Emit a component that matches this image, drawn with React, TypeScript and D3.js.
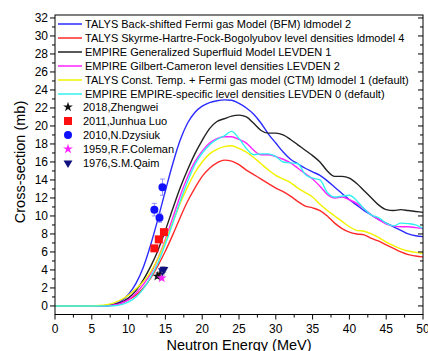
import React from "react";
import * as d3 from "d3";

const energies = [0,1,2,3,4,5,6,7,8,9,10,11,12,13,14,15,16,17,18,19,20,21,22,23,24,25,26,27,28,29,30,31,32,33,34,35,36,37,38,39,40,41,42,43,44,45,46,47,48,49,50];

const talysBFM = [0,0,0,0,0,0,0.01,0.05,0.2,0.55,1.3,2.5,4.3,6.8,9.7,12.8,15.8,18.4,20.3,21.5,22.2,22.6,22.8,22.9,22.85,22.5,22.0,21.3,20.3,19.1,18.1,17.1,16.3,15.8,15.3,14.9,14.5,13.9,13.2,12.5,11.8,11.2,10.6,10.1,9.6,9.2,8.8,8.4,8.0,7.8,7.7];
const talysSHFB = [0,0,0,0,0,0,0,0.03,0.12,0.35,0.7,1.2,2.0,3.1,4.5,6.1,7.9,9.8,11.6,13.1,14.4,15.3,15.9,16.2,16.1,15.7,15.1,14.6,14.1,13.6,13.1,12.7,12.2,11.6,11.1,10.9,10.6,10.0,9.2,8.6,8.2,8.0,7.9,7.5,7.2,6.8,6.4,6.0,5.7,5.55,5.45];
const empireGSM = [0,0,0,0,0,0,0,0.03,0.15,0.4,0.9,1.7,2.9,4.4,6.2,8.4,10.8,13.1,15.1,16.9,18.4,19.7,20.5,20.8,21.1,21.2,21.0,20.3,19.5,19.2,19.2,19.0,18.5,17.9,17.3,16.7,16.0,15.0,14.4,14.4,14.2,13.6,12.8,12.0,11.2,10.7,10.6,10.7,10.6,10.5,10.4];
const empireGC = [0,0,0,0,0,0,0,0,0.1,0.3,0.7,1.4,2.4,3.6,5.3,7.4,9.8,12.2,14.3,16.0,17.2,18.1,18.6,18.8,18.8,18.5,18.1,17.3,16.8,16.8,16.6,16.3,15.9,15.3,14.7,14.1,13.3,12.4,12.0,12.1,11.8,11.4,10.8,10.1,9.6,9.1,8.9,8.8,8.8,8.7,8.6];
const talysCTM = [0,0,0,0,0,0,0.05,0.15,0.35,0.7,1.2,1.9,2.7,3.8,5.3,7.2,9.3,11.4,13.2,14.8,16.0,16.9,17.4,17.7,17.8,17.5,17.1,16.5,15.8,15.1,14.5,14.1,13.7,13.1,12.6,12.1,11.3,10.6,10.0,9.4,8.8,8.4,8.3,8.0,7.6,7.1,6.7,6.35,6.1,5.95,5.85];
const empireSpecific = [0,0,0,0,0,0,0,0,0.03,0.15,0.45,1.0,1.9,3.2,4.8,6.9,9.2,11.6,13.8,15.7,17.0,17.9,18.5,18.9,19.4,18.6,17.5,16.8,16.9,16.9,16.6,16.0,15.9,15.8,14.6,14.2,14.0,12.6,12.1,12.2,12.3,11.7,10.8,10.1,9.8,9.2,8.9,9.2,9.15,9.0,8.6];

const curveNames = [
  "TALYS Back-shifted Fermi gas Model (BFM) ldmodel 2",
  "TALYS Skyrme-Hartre-Fock-Bogolyubov level densities ldmodel 4",
  "EMPIRE Generalized Superfluid Model LEVDEN 1",
  "EMPIRE Gilbert-Cameron level densities LEVDEN 2",
  "TALYS Const. Temp. + Fermi gas model (CTM) ldmodel 1 (default)",
  "EMPIRE EMPIRE-specific level densities LEVDEN 0 (default)",
];
const curveColors = ["#2b2bff", "#ff2a2a", "#222222", "#ff22ff", "#f2f200", "#33f0f0"];
const curveValues = [talysBFM, talysSHFB, empireGSM, empireGC, talysCTM, empireSpecific];

// experimental data: [energy, value, error]
const zhengwei2018 = [[13.9, 3.3, 0.25], [14.3, 3.55, 0.25]];
const luo2011 = [[13.5, 6.4, 0.2], [14.1, 7.4, 0.2], [14.8, 8.2, 0.25]];
const dzysiuk2010 = [[13.5, 10.7, 0.7], [14.2, 9.8, 0.5], [14.6, 13.2, 0.9]];
const coleman1959 = [[14.5, 3.1, 0.2]];
const qaim1976 = [[14.6, 3.9, 0.45], [14.8, 4.05, 0.3]];

const expNames = ["2018,Zhengwei", "2011,Junhua Luo", "2010,N.Dzysiuk", "1959,R.F.Coleman", "1976,S.M.Qaim"];
const expColors = ["#111111", "#ff1010", "#1010ff", "#ff20ff", "#101080"];
const expShapes = ["star", "square", "circle", "star", "triangleDown"];
const expData = [zhengwei2018, luo2011, dzysiuk2010, coleman1959, qaim1976];

const xTicks = [0, 5, 10, 15, 20, 25, 30, 35, 40, 45, 50];
const yTicks = [0, 2, 4, 6, 8, 10, 12, 14, 16, 18, 20, 22, 24, 26, 28, 30, 32];

const W = 428, H = 351;
const left = 55, right = 423, top = 15, bottom = 314.5;
const FONT = "Liberation Sans, Arial, sans-serif";

function Marker({ shape, x, y, color }: { shape: string; x: number; y: number; color: string }) {
  if (shape === "circle") return <circle cx={x} cy={y} r={4} fill={color} />;
  if (shape === "square") return <rect x={x - 4} y={y - 4} width={8} height={8} fill={color} />;
  let sym = d3.symbolStar;
  let size = 30;
  if (shape === "triangleDown") { sym = d3.symbolTriangle; size = 34; }
  const p = d3.symbol().type(sym).size(size)() || "";
  const rot = shape === "triangleDown" ? 180 : 0;
  return <path d={p} transform={`translate(${x},${y}) rotate(${rot})`} fill={color} />;
}

export default function App() {
  const x = d3.scaleLinear().domain([0, 50]).range([left, right]);
  const y = d3.scaleLinear().domain([-0.95, 32.33]).range([bottom, top]);
  const line = d3.line<number>().x((_, i) => x(energies[i])).y((d) => y(d)).curve(d3.curveMonotoneX);

  const yMinor = d3.range(0, 33, 1);
  const xMinor = d3.range(0, 50.1, 2.5);

  return (
    <svg width={W} height={H} style={{ position: "fixed", left: 0, top: 0, background: "#fff" }} fontFamily={FONT}>
      <defs>
        <clipPath id="plotclip">
          <rect x={left} y={top} width={right - left} height={bottom - top} />
        </clipPath>
      </defs>
      {/* curves */}
      <g clipPath="url(#plotclip)">
        {curveValues.map((vals, i) => (
          <path key={i} d={line(vals) || ""} fill="none" stroke={curveColors[i]} strokeWidth={1.4} />
        ))}
      </g>
      {/* experimental data */}
      {expData.map((pts, si) => (
        <g key={si}>
          {pts.map((p, j) => (
            <g key={j}>
              <line x1={x(p[0])} x2={x(p[0])} y1={y(p[1] - p[2])} y2={y(p[1] + p[2])} stroke={si === 2 ? "#7777ff" : "#8888aa"} strokeWidth={0.8} />
              <line x1={x(p[0]) - 2.5} x2={x(p[0]) + 2.5} y1={y(p[1] + p[2])} y2={y(p[1] + p[2])} stroke={si === 2 ? "#7777ff" : "#8888aa"} strokeWidth={0.8} />
              <line x1={x(p[0]) - 2.5} x2={x(p[0]) + 2.5} y1={y(p[1] - p[2])} y2={y(p[1] - p[2])} stroke={si === 2 ? "#7777ff" : "#8888aa"} strokeWidth={0.8} />
              <Marker shape={expShapes[si]} x={x(p[0])} y={y(p[1])} color={expColors[si]} />
            </g>
          ))}
        </g>
      ))}
      {/* frame */}
      <rect x={left} y={top} width={right - left} height={bottom - top} fill="none" stroke="#000" strokeWidth={1} />
      {/* y ticks */}
      {yMinor.map((v) => {
        const major = v % 2 === 0;
        const len = major ? 5 : 3;
        return (
          <g key={"y" + v}>
            <line x1={left - len} x2={left} y1={y(v)} y2={y(v)} stroke="#000" />
            <line x1={right - len} x2={right} y1={y(v)} y2={y(v)} stroke="#000" />
          </g>
        );
      })}
      {yTicks.map((v) => (
        <text key={"yl" + v} x={left - 7} y={y(v)} dy="0.35em" textAnchor="end" fontSize={12}>{v}</text>
      ))}
      {/* x ticks */}
      {xMinor.map((v) => {
        const major = v % 5 === 0;
        const len = major ? 5 : 3;
        return <line key={"x" + v} x1={x(v)} x2={x(v)} y1={bottom} y2={bottom + len} stroke="#000" />;
      })}
      {xTicks.map((v) => (
        <text key={"xl" + v} x={x(v)} y={bottom + 18} textAnchor="middle" fontSize={12}>{v}</text>
      ))}
      {/* axis titles */}
      <text x={239} y={349.5} textAnchor="middle" fontSize={14.5}>Neutron Energy (MeV)</text>
      <text transform="translate(25,162) rotate(-90)" textAnchor="middle" fontSize={14.5}>Cross-section (mb)</text>
      {/* legend */}
      {curveNames.map((name, i) => (
        <g key={"lg" + i}>
          <line x1={58} x2={82} y1={24 + i * 14} y2={24 + i * 14} stroke={curveColors[i]} strokeWidth={1.5} />
          <text x={85} y={24 + i * 14} dy="0.35em" fontSize={11}>{name}</text>
        </g>
      ))}
      {expNames.map((name, i) => (
        <g key={"le" + i}>
          <Marker shape={expShapes[i]} x={68} y={107 + i * 14} color={expColors[i]} />
          <text x={83} y={107 + i * 14} dy="0.35em" fontSize={11}>{name}</text>
        </g>
      ))}
    </svg>
  );
}
